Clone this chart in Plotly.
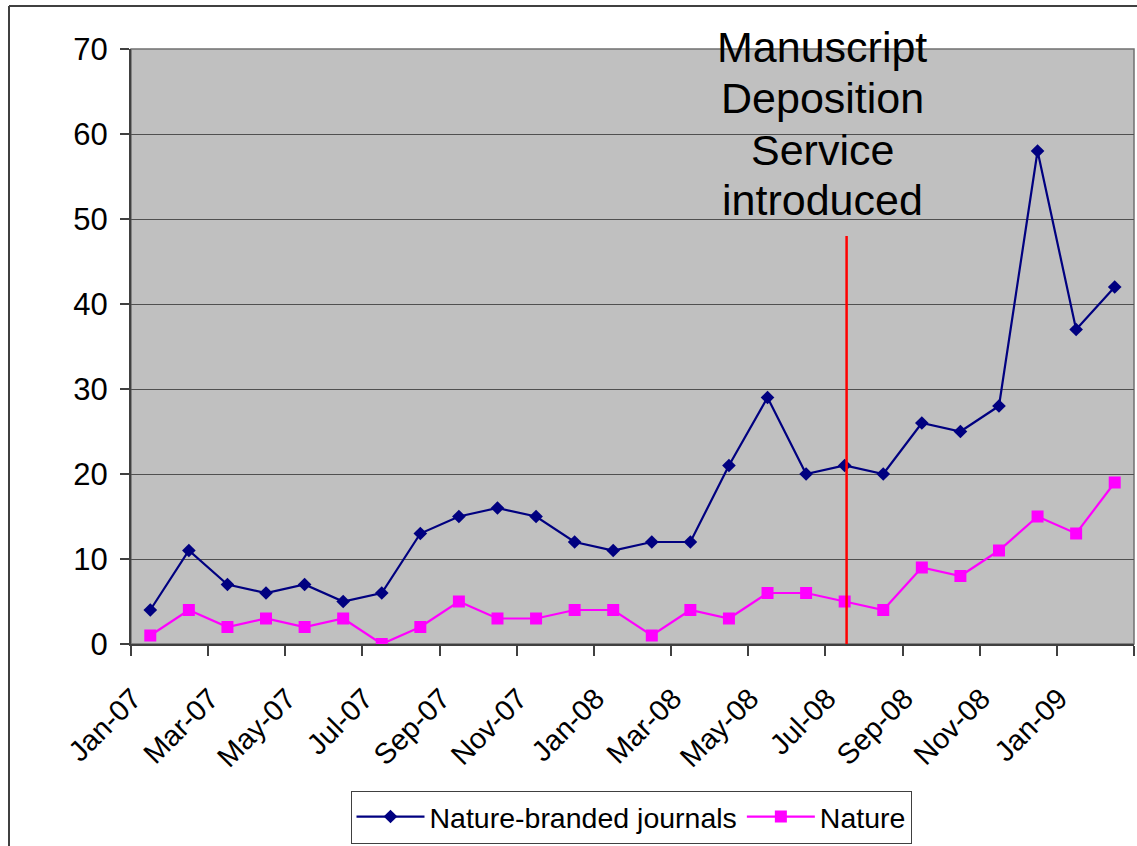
import plotly.graph_objects as go

months = ["Jan-07","Feb-07","Mar-07","Apr-07","May-07","Jun-07","Jul-07","Aug-07","Sep-07","Oct-07","Nov-07","Dec-07",
          "Jan-08","Feb-08","Mar-08","Apr-08","May-08","Jun-08","Jul-08","Aug-08","Sep-08","Oct-08","Nov-08","Dec-08",
          "Jan-09","Feb-09"]
nature_branded = [4, 11, 7, 6, 7, 5, 6, 13, 15, 16, 15, 12, 11, 12, 12, 21, 29, 20, 21, 20, 26, 25, 28, 58, 37, 42]
nature = [1, 4, 2, 3, 2, 3, 0, 2, 5, 3, 3, 4, 4, 1, 4, 3, 6, 6, 5, 4, 9, 8, 11, 15, 13, 19]
event_month = "Jul-08"
event_top = 48
event_lines = ["Manuscript", "Deposition", "Service", "introduced"]

xi = list(range(len(months)))
FONT = "Liberation Sans, Arial, sans-serif"

PW, PH = 1137, 846
L, R, T, B = 131, 1134, 49, 644  # plot area in page pixels


def px_x(X):
    return (X - L) / (R - L)


def px_y(Y):
    return (B - Y) / (B - T)


fig = go.Figure()
fig.add_trace(go.Scatter(x=xi, y=nature_branded, name="Nature-branded journals", mode="lines+markers",
                         line=dict(color="#000080", width=2.2),
                         marker=dict(symbol="diamond", size=10.5, color="#000080")))
fig.add_trace(go.Scatter(x=xi, y=nature, name="Nature", mode="lines+markers",
                         line=dict(color="#FF00FF", width=2.2),
                         marker=dict(symbol="square", size=12, color="#FF00FF")))

ex = months.index(event_month)
fig.add_shape(type="line", xref="x", yref="y", x0=ex + 0.05, x1=ex + 0.05, y0=0, y1=event_top,
              line=dict(color="#FF0000", width=2.5), layer="above")
line_centers = [47, 98, 150, 200]
for txt, yc in zip(event_lines, line_centers):
    fig.add_annotation(xref="paper", yref="paper", x=px_x(822), y=px_y(yc), yanchor="middle", xanchor="center",
                       text=txt, showarrow=False, font=dict(family=FONT, size=43, color="black"))

# outer chart frame (partially visible)
fl = px_x(9)
ft = px_y(6)
fig.add_shape(type="line", xref="paper", yref="paper", x0=fl, x1=fl, y0=ft, y1=-0.5,
              line=dict(color="#404040", width=2))
fig.add_shape(type="line", xref="paper", yref="paper", x0=fl, x1=1.1, y0=ft, y1=ft,
              line=dict(color="#404040", width=2))

tickvals = [i - 0.5 for i in range(0, len(months) + 1, 2)]
ticktext = [months[i] if i < len(months) else "" for i in range(0, len(months) + 1, 2)]

fig.update_layout(
    width=PW, height=PH,
    margin=dict(l=L, r=PW - R, t=T, b=PH - B),
    paper_bgcolor="white", plot_bgcolor="#C0C0C0",
    font=dict(family=FONT, size=28, color="black"),
    showlegend=True,
    legend=dict(orientation="h", x=px_x(631), y=px_y(817), xanchor="center", yanchor="middle",
                bordercolor="#404040", borderwidth=1, bgcolor="white",
                font=dict(family=FONT, size=28.5, color="black"), itemwidth=68),
    xaxis=dict(range=[-0.5, len(months) - 0.5], tickmode="array", tickvals=tickvals, ticktext=ticktext,
               tickangle=-45, ticks="outside", ticklen=10, tickcolor="#404040", tickwidth=1.5,
               ticklabelstandoff=14, ticklabelshift=2,
               showgrid=False, zeroline=False, showline=True, linecolor="#404040", linewidth=2,
               mirror=False, tickfont=dict(size=29)),
    yaxis=dict(range=[0, 70], tickvals=list(range(0, 71, 10)), ticks="outside", ticklen=9,
               tickcolor="#404040", tickwidth=1.5, showgrid=True, gridcolor="#505050", gridwidth=1,
               ticklabelstandoff=6,
               zeroline=False, showline=True, linecolor="#404040", linewidth=2, tickfont=dict(size=31)),
)
# top and right border of plot area
fig.add_shape(type="rect", xref="paper", yref="paper", x0=0, x1=1, y0=0, y1=1,
              line=dict(color="#707070", width=1.5), layer="below")

fig.write_html("out.html", config={"displayModeBar": False},
               post_script="document.body.style.margin='0px';")
